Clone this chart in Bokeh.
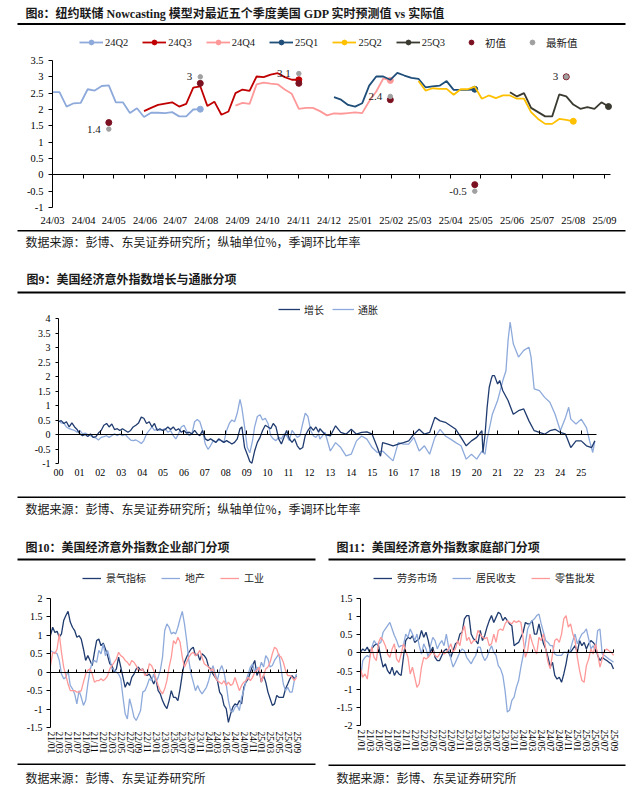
import pandas as pd
from bokeh.plotting import figure
from bokeh.models import (Range1d, Label, BoxAnnotation, Legend, LegendItem, DatetimeAxis,
                          LinearAxis, MonthsTicker, FixedTicker, DatetimeTickFormatter,
                          CustomJSTickFormatter, ColumnDataSource)
from bokeh.embed import file_html
from bokeh.resources import INLINE
from bokeh.core.properties import value

SERIF = "Liberation Serif"
CJK = "Noto Sans CJK SC"
MIX = "'Liberation Serif', 'Noto Sans CJK SC'"
TXT = "#1a1a1a"
W, H = 640, 784

# ---------------- Figure 8 data (weekly nowcasts) ----------------
q_labels = ["24Q2", "24Q3", "24Q4", "25Q1", "25Q2", "25Q3"]
q_colors = ["#8eaadb", "#c00000", "#ff9999", "#1f4e79", "#ffc000", "#3b3a30"]
q_start = ["2024-03-01", "2024-05-31", "2024-08-30", "2024-12-06", "2025-02-28", "2025-05-30"]
nc_24q2 = [2.53, 2.53, 2.09, 2.19, 2.2, 2.62, 2.58, 2.72, 2.74, 2.22, 2.22, 1.89, 2.04, 1.77,
           1.9, 1.9, 1.89, 1.92, 1.79, 1.79, 2.0, 2.01]
nc_24q3 = [1.95, 2.05, 2.14, 2.18, 2.22, 2.09, 2.17, 2.67, 2.71, 2.11, 2.24, 1.84, 1.94, 2.5,
           2.61, 2.57, 3.01, 2.99, 3.07, 3.11, 2.99, 2.91, 2.91]
nc_24q4 = [2.12, 2.2, 2.17, 2.77, 2.82, 2.79, 2.77, 2.61, 2.48, 2.02, 2.05, 2.05, 1.95, 1.82,
           1.88, 1.87, 1.89, 1.91, 1.89, 2.25, 2.55, 2.95, 2.89]
nc_25q1 = [2.38, 2.3, 2.14, 2.09, 2.19, 2.73, 3.01, 3.01, 2.91, 3.12, 3.04, 2.97, 2.94, 2.68,
           2.71, 2.73, 2.87, 2.6, 2.6, 2.6, 2.62]
nc_25q2 = [2.87, 2.58, 2.65, 2.63, 2.63, 2.45, 2.62, 2.62, 2.7, 2.33, 2.43, 2.35, 2.43, 2.43,
           2.33, 2.33, 1.92, 1.71, 1.56, 1.56, 1.71, 1.68, 1.64]
nc_25q3 = [2.53, 2.4, 2.5, 2.05, 1.92, 1.79, 1.79, 2.46, 2.4, 2.15, 2.02, 2.07, 2.02, 2.22, 2.09]
nc_series = [nc_24q2, nc_24q3, nc_24q4, nc_25q1, nc_25q2, nc_25q3]

gdp_dates = ["2024-04-26", "2024-07-26", "2024-11-01", "2025-01-31", "2025-04-25", "2025-07-25"]
gdp_initial = [1.6, 2.8, 2.8, 2.3, -0.3, 3.0]
gdp_latest = [1.4, 3.0, 3.1, 2.4, -0.5, 3.0]
gdp_text = ["1.4", "3", "3.1", "2.4", "-0.5", "3"]

# ---------------- Figure 9 data (years since 2000) ----------------
# 2000 - 2012 read on a fine grid of ~0.128 year, later years read roughly quarterly
fine_a = [round(i * 0.1276, 2) for i in range(69)]
fine_c = [round(9.38 + i * 0.1276, 2) for i in range(25)]
growth_late_t = [12.5, 12.75, 13.0, 13.25, 13.5, 13.75, 14.0, 14.25, 14.5, 14.75, 15.0, 15.25,
                 15.4, 15.5, 15.75, 16.0, 16.25, 16.5, 16.75, 17.0, 17.25, 17.5, 17.75, 18.0,
                 18.25, 18.5, 18.75, 19.0, 19.25, 19.5, 19.75, 20.0, 20.25, 20.3, 20.4, 20.5,
                 20.6, 20.7, 20.75, 20.85, 21.0, 21.1, 21.25, 21.5, 21.75, 22.0, 22.25, 22.5,
                 22.75, 23.0, 23.25, 23.5, 23.75, 24.0, 24.25, 24.5, 24.75, 25.0, 25.25, 25.5,
                 25.65]
infl_late_t = [12.5, 12.75, 13.0, 13.25, 13.5, 13.75, 14.0, 14.25, 14.5, 14.75, 15.0, 15.25,
               15.5, 15.75, 16.0, 16.25, 16.5, 16.75, 17.0, 17.25, 17.5, 17.75, 18.0, 18.25,
               18.5, 18.75, 19.0, 19.25, 19.5, 19.75, 20.0, 20.25, 20.4, 20.5, 20.75, 21.0,
               21.25, 21.4, 21.5, 21.6, 21.75, 22.0, 22.25, 22.5, 22.6, 22.75, 23.0, 23.25,
               23.5, 23.75, 24.0, 24.25, 24.4, 24.5, 24.75, 25.0, 25.25, 25.4, 25.55, 25.65]
growth_t = fine_a + [8.77, 8.90, 9.03, 9.15, 9.25] + fine_c + growth_late_t
growth_v = [0.44, 0.48, 0.38, 0.44, 0.26, 0.4, 0.26, 0.17, 0.02, -0.04, 0.0, -0.07, 0.02, -0.1,
            -0.07, 0.05, 0.14, 0.32, 0.38, 0.26, 0.36, 0.17, 0.2, 0.14, 0.2, 0.14, 0.08, 0.14,
            0.26, 0.32, 0.4, 0.6, 0.56, 0.38, 0.44, 0.26, 0.38, 0.14, 0.2, 0.14, 0.17, 0.26,
            0.17, 0.26, 0.14, 0.2, 0.08, 0.14, 0.05, 0.08, 0.02, 0.14, 0.02, -0.04, 0.14, -0.15,
            -0.21, -0.15, -0.21, -0.27, -0.15, -0.21, -0.27, -0.21, -0.27, -0.33, -0.27, -0.15,
            0.2,
            0.26, -0.45, -0.69, -0.93, -0.99,
            -0.57, -0.27, -0.1, 0.14, 0.32, 0.26, 0.2, 0.38, 0.26, -0.15, -0.33, -0.1, 0.14,
            -0.15, -0.27, -0.15, -0.39, -0.51, -0.45, -0.04, 0.14, 0.26, 0.14, 0.26, 0.08,
            0.2, 0.0, -0.05, 0.3, 0.07, 0.01, 0.18, 0.01, 0.07, 0.09, 0.01, -0.45, -0.75, -0.28,
            -0.33, -0.39, -0.33, -0.28, -0.22, 0.01, 0.18, 0.01, 0.07, 0.59, 0.47, 0.42, 0.3,
            0.18, -0.1, -0.39, -0.22, -0.1, 0.13, -0.62, 0.0, 0.94, 1.63, 1.92, 2.03, 2.03,
            1.74, 1.86, 1.51, 1.17, 0.7, 0.82, 0.88, 0.47, 0.13, 0.07, 0.01, 0.13, 0.18, 0.07,
            0.01, -0.45, -0.22, -0.22, -0.39, -0.45, -0.22]
infl_t = fine_a + [8.77, 8.90, 9.03, 9.15, 9.28] + fine_c + infl_late_t
infl_v = [0.48, 0.4, 0.38, 0.26, 0.2, 0.17, 0.14, 0.08, 0.14, 0.02, 0.05, 0.0, -0.04, -0.1,
          -0.12, -0.19, -0.1, -0.07, -0.04, -0.1, -0.04, 0.02, -0.04, 0.02, -0.04, 0.0, -0.1,
          -0.19, -0.21, -0.19, -0.24, -0.31, -0.21, 0.02, 0.14, 0.26, 0.14, 0.2, 0.14, 0.17,
          0.2, 0.08, 0.14, -0.04, -0.15, 0.02, 0.26, 0.32, 0.14, -0.04, 0.02, 0.44, 0.52, 0.44,
          0.14, -0.33, -0.51, -0.39, -0.21, -0.27, -0.19, -0.21, -0.27, 0.14, 0.38, 0.5, 0.44,
          0.74, 1.21,
          0.92, 0.26, -0.45, -0.63, -0.21,
          0.26, 0.62, 0.68, 0.5, 0.56, 0.38, -0.04, -0.15, -0.21, -0.1, -0.15, 0.02, -0.04,
          -0.21, 0.14, 0.02, -0.1, -0.04, 0.38, 0.74, 0.62, 0.14, -0.04, -0.1, 0.02,
          -0.16, 0.07, -0.57, -0.28, -0.45, -0.74, -0.68, -0.22, -0.05, -0.16, -0.45, -0.62,
          -0.57, -0.74, -0.91, -0.28, -0.33, -0.33, -0.1, -0.57, -0.39, -0.68, -0.1, 0.18,
          -0.05, -0.16, -0.28, -0.39, -0.85, -0.68, -0.85, -0.57,
          -0.68, -0.16, 0.7, 1.17, 1.86, 2.2, 3.24, 3.88, 3.13,
          2.67, 2.9, 3.01, 2.67, 1.57, 1.51, 1.28, 1.11, 0.7,
          0.13, 0.59, 0.94, 0.53, 0.36, 0.53, 0.24, -0.22, -0.62, -0.22]

# ---------------- Figure 10 / 11 data (half-month steps from 2021/01) ----------------
biz = [1.0, 1.22, 1.08, 1.11, 0.95, 1.04, 1.4, 1.54, 1.65, 1.36, 1.22, 1.13, 0.95, 0.99, 0.9,
       0.63, 0.32, 0.45, 0.32, 0.18, 0.54, 0.86, 0.9, 0.72, 0.79, 0.63, 0.45, 0.23, 0.18, 0.0,
       0.09, 0.41, 0.14, -0.14, -0.41, -0.27, -0.36, -0.14, -0.05, 0.09, 0.14, 0.05, 0.09,
       -0.05, -0.09, -0.05, -0.18, -0.32, -0.18, -0.5, -0.59, -0.77, -0.9, -0.99, -0.77, -0.5,
       -0.68, -0.68, -0.77, -0.45, -0.05, 0.27, 0.41, 0.54, 0.63, 0.68, 0.45, 0.5, 0.32, 0.5,
       0.45, 0.36, 0.14, 0.09, -0.05, -0.14, -0.23, -0.54, -0.63, -0.9, -0.99, -1.36, -1.13,
       -0.95, -0.86, -0.9, -0.77, -0.86, -0.41, -0.27, -0.18, 0.0, 0.18, 0.32, -0.09, 0.05,
       -0.27, -0.09, -0.27, -0.54, -0.72, -0.9, -0.86, -0.63, -0.68, -0.68, -0.68, -0.45,
       -0.32, -0.18, -0.09, -0.18, -0.09]
estate = [0.59, 0.54, 0.54, 0.5, 0.32, -0.05, -0.18, -0.14, 0.05, -0.36, -0.45, -0.59, -0.86,
          -0.5, -0.68, -0.9, -0.77, -0.32, 0.05, 0.27, 0.32, 0.27, 0.59, 0.5, 0.77, 0.45, 0.59,
          0.36, 0.09, 0.05, 0.0, -0.05, -0.18, -0.68, -1.13, -1.27, -0.72, -0.95, -1.22, -1.31,
          -1.18, -1.04, -0.54, -0.5, -0.36, -0.18, -0.23, -0.05, -0.27, -0.14, 0.05, 0.41, 1.13,
          1.31, 1.22, 1.04, 1.08, 1.04, 1.22, 1.45, 1.65, 1.31, 0.86, 0.32, -0.05, -0.27, -0.5,
          -0.36, -0.5, -0.59, -0.5, -0.41, -0.23, 0.0, 0.18, -0.05, -0.23, 0.05, 0.18, 0.0,
          -0.32, -0.77, -1.04, -1.08, -0.95, -0.9, -1.04, -0.68, -0.5, -0.23, -0.05, 0.14, 0.23,
          0.0, 0.14, 0.05, 0.27, 0.14, 0.45, 0.36, 0.14, 0.18, 0.32, 0.41, 0.5, 0.09, -0.32,
          -0.5, -0.41, -0.54, -0.54, -0.23, -0.05]
industry = [0.18, 0.54, 0.5, 0.63, 1.04, 0.54, 0.14, -0.09, -0.32, -0.5, -0.5, -0.5, -0.54,
            -0.54, -0.5, -0.27, -0.05, 0.05, 0.09, -0.05, -0.27, -0.23, -0.23, -0.18, -0.23,
            -0.18, -0.09, 0.09, 0.18, 0.27, 0.36, 0.54, 0.45, 0.41, 0.32, 0.27, 0.18, 0.32,
            0.27, 0.18, 0.05, 0.05, 0.09, -0.09, -0.05, 0.23, 0.18, 0.05, -0.18, -0.36, -0.5,
            -0.59, -0.45, -0.23, 0.14, 0.41, 0.86, 0.77, 0.95, 0.81, 0.41, 0.14, 0.27, 0.41,
            0.5, 0.54, 0.45, 0.5, 0.59, 0.41, 0.23, 0.18, 0.14, 0.05, 0.09, -0.14, -0.23, -0.27,
            -0.32, -0.23, -0.36, -0.27, -0.36, -0.32, -0.14, -0.32, -0.5, -0.36, -0.27, -0.23,
            -0.14, -0.23, -0.14, 0.0, 0.05, 0.14, -0.27, -0.09, 0.09, 0.14, 0.27, 0.5, 0.68,
            0.63, 0.45, 0.41, 0.27, 0.05, -0.09, -0.09, -0.14, -0.23, -0.14]
labor = [0.02, 0.11, 0.06, 0.16, 0.02, 0.11, 0.2, 0.25, 0.2, -0.12, -0.39, -0.3, -0.49, -0.58,
         -0.39, -0.62, -0.49, -0.58, -0.62, -0.12, 0.34, 0.43, 0.39, 0.48, 0.29, 0.34, 0.39,
         0.62, 0.43, 0.57, 0.34, 0.02, 0.16, -0.12, -0.21, -0.21, -0.07, 0.06, 0.11, 0.02,
         -0.12, 0.06, 0.25, 0.29, 0.52, 0.57, 0.94, 1.03, 1.03, 0.52, 0.39, 0.34, 0.25, 0.62,
         0.34, 0.48, 0.71, 0.89, 1.03, 0.84, 0.98, 1.12, 1.07, 0.89, 0.98, 0.89, 0.8, 0.75,
         0.2, 0.25, 0.29, 0.43, 0.57, 0.84, 0.8, 0.8, 0.89, 0.52, 0.52, 0.8, 0.52, 0.25, 0.11,
         -0.12, -0.39, -0.26, -0.62, -0.72, -0.67, -0.81, -0.58, -0.3, 0.06, 0.02, 0.11, 0.2,
         0.02, 0.34, 0.2, 0.29, 0.11, 0.25, 0.34, 0.29, 0.2, -0.07, -0.21, -0.12, -0.17,
         -0.21, -0.26, -0.3, -0.44]
income = [-0.7, -0.21, -0.12, -0.07, -0.12, 0.16, 0.34, 0.25, 0.25, 0.29, 0.57, 0.66, 0.75,
          0.84, 0.66, 0.48, 0.34, 0.16, 0.2, 0.2, 0.52, 0.43, 0.66, 0.52, 0.34, 0.52, 0.2,
          -0.03, 0.25, 0.11, -0.12, 0.2, 0.43, 0.34, 0.11, 0.25, 0.34, 0.2, 0.52, 0.16, -0.17,
          -0.39, -0.26, -0.12, 0.02, 0.11, 0.06, -0.12, -0.21, -0.3, -0.17, -0.07, 0.16, 0.16,
          -0.07, -0.21, -0.12, 0.06, 0.2, 0.02, -0.07, -0.35, -0.44, -0.62, -1.04, -1.63,
          -1.58, -1.31, -1.22, -0.95, -0.76, -0.39, -0.07, 0.25, 0.66, 0.8, 0.89, 0.94, 1.03,
          1.07, 0.8, 0.57, 0.34, 0.29, 0.2, 0.2, -0.03, -0.07, -0.07, -0.07, 0.02, 0.02, -0.03,
          0.11, 0.34, 0.52, 0.25, 0.39, 0.52, 0.57, 0.66, 0.39, 0.11, 0.2, 0.06, 0.62, 0.66,
          -0.03, -0.07, -0.12, -0.17, -0.21, -0.26]
retail = [-0.44, -0.67, -0.58, -0.72, -0.21, 0.16, -0.12, -0.21, 0.29, 0.43, 0.34, 0.2,
          -0.03, -0.12, 0.11, 0.25, -0.17, -0.26, -0.03, 0.25, 0.06, -0.12, -0.58, -0.39,
          -0.67, -0.95, -0.85, -0.39, -0.12, -0.17, -0.12, -0.03, 0.06, -0.07, -0.12, -0.03,
          0.06, -0.03, 0.02, 0.11, 0.25, 0.02, 0.11, 0.34, 0.2, 0.57, 0.75, 0.34, 0.43, 0.25,
          0.34, 0.34, 0.62, 0.52, 0.43, 0.39, 0.43, 0.2, 0.25, 0.52, 0.29, 0.62, 0.66, 0.62,
          0.8, 0.89, 0.84, 0.8, 0.89, 0.84, 0.89, 0.84, 0.39, -0.12, 0.06, 0.52, 0.29, 0.11,
          -0.03, 0.43, 0.34, 0.52, 0.11, -0.26, -0.44, -0.03, 0.34, 0.39, 0.29, 0.52, 0.94,
          1.03, 0.71, 0.8, 0.52, 0.34, -0.12, -0.49, -0.76, -0.81, -0.35, -0.17, 0.11, -0.03,
          0.25, -0.03, -0.39, -0.17, 0.06, 0.11, 0.06, 0.02, -0.07]

NAVY = "#1f3b6f"
LIGHT = "#8eaadb"
PINK = "#ff9999"

# ---------------- page figure (pixel coordinates, y downwards) ----------------
p = figure(width=W, height=H, x_range=Range1d(0, W), y_range=Range1d(H, 0),
           x_axis_location=None, y_axis_location=None, min_border=0,
           output_backend="svg", toolbar_location=None)
p.outline_line_color = None
p.grid.visible = False


def ms(s):
    return pd.Timestamp(s).value / 1e6


# chart regions on the page: name -> (left, right, top, bottom, x0, x1, y0, y1)
regions = {
    "c1": (52, 610, 60, 207, ms("2024-03-01"), ms("2025-09-07"), -1, 3.5),
    "c2": (58, 596, 318, 463, 2000, 2025.73, -1, 4),
    "c3": (50, 296, 598, 727, 0, 56, -1.5, 2),
    "c4": (360, 613, 598, 725, 0, 56, -2, 1.5),
}
xr, yr = {}, {}
for k, (L, R, T, B, x0, x1, y0, y1) in regions.items():
    sx = (x1 - x0) / (R - L)
    sy = (y1 - y0) / (B - T)
    xr[k] = Range1d(start=x0 - L * sx, end=x1 + (W - R) * sx)
    yr[k] = Range1d(start=y0 - (H - B) * sy, end=y1 + T * sy)
p.extra_x_ranges = xr
p.extra_y_ranges = yr


def add_text(x, y, text, size="12px", bold=False, font=CJK):
    p.add_layout(Label(x=x, y=y, text=text, text_font=font, text_font_size=size,
                       text_font_style="bold" if bold else "normal", text_color=TXT,
                       text_baseline="middle", text_align="left"))


def add_rule(x0, x1, y0, y1):
    p.add_layout(BoxAnnotation(left=x0, right=x1, top=y0, bottom=y1, fill_color="black",
                               fill_alpha=1, line_color=None))


def y_axis(name, ticks, size="10.5px", standoff=5, tick_out=4):
    L, R, T, B, x0, x1, y0, y1 = regions[name]
    ax = LinearAxis(x_range_name=name, y_range_name=name, fixed_location=x0, bounds=(y0, y1),
                    ticker=FixedTicker(ticks=ticks),
                    major_label_overrides={t: f"{t:g}" for t in ticks},
                    major_label_text_font=SERIF, major_label_text_font_size=size,
                    major_label_text_color="black", major_tick_in=0, major_tick_out=tick_out,
                    minor_tick_line_color=None, axis_line_color="black",
                    major_label_standoff=standoff)
    p.add_layout(ax, "left")


def x_axes(name, ticker_fn, fmt_kwargs, size, standoff, tick_in, tick_out, cls=LinearAxis,
           orientation="horizontal"):
    L, R, T, B, x0, x1, y0, y1 = regions[name]
    lab = cls(x_range_name=name, y_range_name=name, fixed_location=y0, bounds=(x0, x1),
              ticker=ticker_fn(), axis_line_color=None, major_tick_line_color=None,
              minor_tick_line_color=None, major_tick_in=0, major_tick_out=0,
              major_label_text_font=SERIF, major_label_text_font_size=size,
              major_label_text_color="black", major_label_standoff=standoff,
              major_label_orientation=orientation, **fmt_kwargs)
    p.add_layout(lab, "below")
    zero = cls(x_range_name=name, y_range_name=name, fixed_location=0, bounds=(x0, x1),
               ticker=ticker_fn(), formatter=CustomJSTickFormatter(code="return ''"),
               axis_line_color="black", axis_line_width=1, major_tick_line_color="black",
               major_tick_in=tick_in, major_tick_out=tick_out, minor_tick_line_color=None)
    p.add_layout(zero, "below")


def legend(items, x_left, y_center, size, font, glyph_w, standoff, spacing, lh=15):
    lg = Legend(items=items, orientation="horizontal",
                location=(x_left, H - (y_center + lh / 2)),
                label_text_font=font, label_text_font_size=size, label_text_color=TXT,
                glyph_width=glyph_w, glyph_height=12, label_height=12, label_width=0,
                label_standoff=standoff, spacing=spacing, padding=0, margin=0,
                border_line_color=None, background_fill_alpha=0)
    p.add_layout(lg, "center")


# ================= Figure 8 =================
add_text(25, 13, "图8：纽约联储 Nowcasting 模型对最近五个季度美国 GDP 实时预测值 vs 实际值",
         size="12px", bold=True, font=MIX)
add_rule(17, 625, 22.5, 24.5)

month_ticker = lambda: MonthsTicker(months=list(range(1, 13)))
x_axes("c1", month_ticker,
       dict(formatter=DatetimeTickFormatter(days="%y/%m", months="%y/%m", years="%y/%m")),
       "10.5px", 7, 0, 4, cls=DatetimeAxis)
y_axis("c1", [-1, -0.5, 0, 0.5, 1, 1.5, 2, 2.5, 3, 3.5])

items1 = []
for lab, col, start, vals in zip(q_labels, q_colors, q_start, nc_series):
    d = pd.date_range(start, periods=len(vals), freq="7D")
    src = ColumnDataSource(dict(d=d, v=vals))
    r = p.line("d", "v", source=src, color=col, line_width=1.8,
               x_range_name="c1", y_range_name="c1")
    s = p.scatter(x=[d[-1]], y=[vals[-1]], size=6, color=col,
                  x_range_name="c1", y_range_name="c1")
    items1.append(LegendItem(label=lab, renderers=[r, s]))

gsrc = ColumnDataSource(dict(d=pd.to_datetime(gdp_dates), ini=gdp_initial, lat=gdp_latest,
                             t=gdp_text))
r_ini = p.scatter("d", "ini", source=gsrc, size=6, color="#7b1020",
                  x_range_name="c1", y_range_name="c1")
r_lat = p.scatter("d", "lat", source=gsrc, size=4.5, color="#a0a0a0",
                  x_range_name="c1", y_range_name="c1")
p.text("d", "lat", text="t", source=gsrc, x_offset=-8, text_align="right",
       text_baseline="middle", text_font=value(SERIF), text_font_size=value("11px"),
       text_color=TXT, x_range_name="c1", y_range_name="c1")
items1.append(LegendItem(label="初值", renderers=[r_ini]))
items1.append(LegendItem(label="最新值", renderers=[r_lat]))
legend(items1, 79, 42, "10.5px", MIX, 24, 2, 14)

add_rule(17, 625, 229.5, 231)
add_text(25, 240.5, "数据来源：彭博、东吴证券研究所；纵轴单位%，季调环比年率", size="12px")

# ================= Figure 9 =================
add_text(26, 279.5, "图9：美国经济意外指数增长与通胀分项", size="12px", bold=True, font=MIX)
add_rule(17, 625, 291, 293)

year_ticks = list(range(2000, 2026))
x_axes("c2", lambda: FixedTicker(ticks=year_ticks),
       dict(major_label_overrides={y: f"{y - 2000:02d}" for y in year_ticks}),
       "10px", 5, 4, 0)
y_axis("c2", [-1, -0.5, 0, 0.5, 1, 1.5, 2, 2.5, 3, 3.5, 4], size="10px", standoff=5, tick_out=3)
ri = p.line([2000 + t for t in infl_t], infl_v, color=LIGHT, line_width=1.3,
            x_range_name="c2", y_range_name="c2")
rg = p.line([2000 + t for t in growth_t], growth_v, color=NAVY, line_width=1.3,
            x_range_name="c2", y_range_name="c2")
legend([LegendItem(label="增长", renderers=[rg]), LegendItem(label="通胀", renderers=[ri])],
       278, 309, "10px", CJK, 22, 4, 8)

add_rule(17, 625, 496, 497.5)
add_text(25, 508, "数据来源：彭博、东吴证券研究所；纵轴单位%，季调环比年率", size="12px")

# ================= Figures 10 & 11 =================
add_text(25, 547, "图10：美国经济意外指数企业部门分项", size="12px", bold=True, font=MIX)
add_text(336, 547, "图11：美国经济意外指数家庭部门分项", size="12px", bold=True, font=MIX)
add_rule(17, 315, 558, 560)
add_rule(328, 625, 558, 560)

m_ticks = list(range(0, 57, 2))
m_labels = {m: f"{21 + m // 12}/{m % 12 + 1:02d}" for m in m_ticks}


def small_chart(name, yticks, series, names, x_left):
    x_axes(name, lambda: FixedTicker(ticks=m_ticks), dict(major_label_overrides=m_labels),
           "9.5px", 4, 3, 0, orientation="vertical")
    y_axis(name, yticks, size="10px", standoff=4)
    items = []
    for vals, nm, col in zip(series, names, [NAVY, LIGHT, PINK]):
        xs = [0.5 * i for i in range(len(vals))]
        r = p.line(xs, vals, color=col, line_width=1.3, x_range_name=name, y_range_name=name)
        items.append(LegendItem(label=nm, renderers=[r]))
    legend(items, x_left, 577.5, "10px", CJK, 19, 5, 15)


small_chart("c3", [-1.5, -1, -0.5, 0, 0.5, 1, 1.5, 2], [biz, estate, industry],
            ["景气指标", "地产", "工业"], 82)
small_chart("c4", [-2, -1.5, -1, -0.5, 0, 0.5, 1, 1.5], [labor, income, retail],
            ["劳务市场", "居民收支", "零售批发"], 373)

add_rule(17, 315, 763, 764.5)
add_rule(328, 625, 764, 765.5)
add_text(25, 776.5, "数据来源：彭博、东吴证券研究所", size="12px")
add_text(336, 776.5, "数据来源：彭博、东吴证券研究所", size="12px")

open("out.html", "w").write(file_html(p, INLINE))
